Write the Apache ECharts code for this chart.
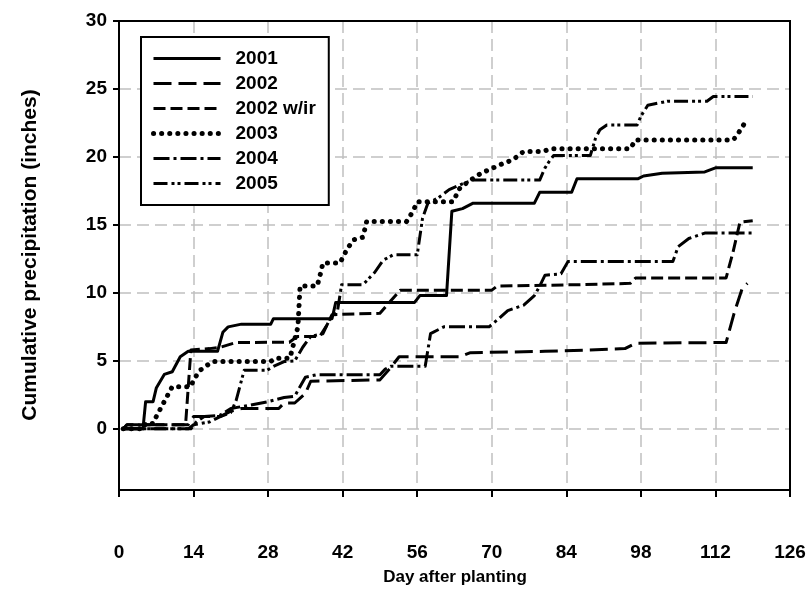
<!DOCTYPE html>
<html>
<head>
<meta charset="utf-8">
<script src="https://cdn.jsdelivr.net/npm/echarts@6/dist/echarts.min.js"></script>
<style>
html,body{margin:0;padding:0;background:#fff;}
#c{width:812px;height:590px;}
</style>
</head>
<body>
<div id="c"></div>
<script>
// Tick labels
const xTicks = [0, 14, 28, 42, 56, 70, 84, 98, 112, 126];
const yTicks = [0, 5, 10, 15, 20, 25, 30];
const seriesNames = ['2001', '2002', '2002 w/ir', '2003', '2004', '2005'];

// [day after planting, cumulative precipitation (inches)]
const d2001 = [[0.8,0],[4.5,0],[5,2],[6.4,2],[7,3],[8.5,4],[10,4.2],[11.5,5.3],[13,5.7],[18.5,5.7],[19.5,7.1],[20.5,7.5],[23,7.7],[28.5,7.7],[29,8.1],[40,8.1],[40.7,9.3],[55.5,9.3],[56.5,9.8],[61.5,9.8],[62.5,16],[64.5,16.2],[66.5,16.6],[78,16.6],[79,17.4],[85,17.4],[86,18.4],[97.5,18.4],[98.5,18.6],[102,18.8],[110,18.9],[112,19.2],[119,19.2]];
const d2002 = [[0.8,0],[1.5,0.3],[13,0.3],[14,0.9],[19,0.9],[21,1.3],[23,1.5],[30,1.5],[31,1.9],[33,1.9],[35,2.6],[36,3.5],[49,3.6],[51,4.5],[52.6,5.3],[64,5.3],[66,5.6],[80,5.7],[88,5.8],[95,5.9],[97,6.3],[114,6.35],[115.5,8.5],[117,10.3],[118,10.7]];
const d2002ir = [[0.8,0],[1.5,0.3],[12.5,0.3],[13.5,5.8],[17,5.9],[19,6.0],[22,6.35],[32,6.37],[33.5,6.8],[37.7,6.8],[39,7.6],[40,8.4],[49,8.5],[51,9.4],[52.8,10.2],[70,10.2],[71,10.5],[86,10.6],[96,10.7],[97,11.1],[114,11.1],[115.3,13.0],[116.6,15.2],[119,15.3]];
const d2003 = [[0.8,0],[4.5,0],[5,0.4],[6.4,0.4],[7,0.9],[8.5,2.0],[10,3.1],[13.5,3.1],[14,3.6],[15.2,4.3],[17,4.8],[17.7,4.95],[28.4,4.95],[29.6,5.2],[32.1,5.2],[33.6,7.5],[34,10.5],[37.2,10.5],[37.7,11.2],[38.3,12.2],[41.5,12.2],[42.8,13.2],[44,13.9],[45.8,14.1],[46.5,15.25],[54,15.25],[55.2,16.0],[56,16.7],[62.7,16.7],[64,17.7],[66,18.3],[68,18.8],[72,19.5],[74,19.8],[76,20.4],[79.6,20.4],[81,20.6],[96,20.6],[97,21.25],[115.3,21.25],[116,21.55],[117,22.2],[117.9,22.7]];
const d2004 = [[0.8,0],[13.5,0],[14.5,0.5],[16,0.9],[19,1.0],[21,1.5],[24,1.7],[28,2.0],[31,2.3],[33,2.4],[35,3.8],[37,3.97],[49,3.97],[50,4.4],[51,4.6],[57.5,4.6],[58.5,7.0],[61,7.5],[69.5,7.5],[71,8.0],[73,8.7],[76,9.1],[78,9.8],[79,10.5],[80,11.3],[83,11.4],[84.3,12.3],[104,12.3],[105,13.4],[107,14.0],[110,14.4],[119,14.4]];
const d2005 = [[0.8,0],[13,0],[14,0.3],[17,0.5],[19,0.9],[21,1.2],[22,2.1],[23.5,4.3],[27.8,4.3],[29,4.6],[31,4.95],[33,5.0],[34.5,6.0],[36,6.8],[38.3,7.0],[39.5,8.0],[41,8.6],[41.8,10.6],[45.8,10.6],[48,11.5],[49.6,12.4],[51.5,12.8],[56,12.8],[57,15.5],[58,16.6],[60,17.0],[62,17.6],[65,18.1],[66.5,18.3],[79,18.3],[80,19.2],[81,19.8],[81.6,20.1],[88.5,20.1],[89.5,21.4],[90.3,22.0],[91.6,22.35],[97.3,22.35],[98,23.0],[99.3,23.8],[103,24.1],[110.4,24.1],[111.6,24.45],[119,24.45]];

const seriesData = [d2001, d2002, d2002ir, d2003, d2004, d2005];
const dashTypes = ['solid', [18, 7], [12, 5], [0.1, 8], [16, 4, 3, 4], [14, 4, 3, 3, 3, 4]];
const widths = [3, 3, 3, 5, 3, 3];

const FONT = '"Liberation Sans", Arial, sans-serif';
const chart = echarts.init(document.getElementById('c'), null, {renderer: 'canvas'});

const series = seriesNames.map((n, i) => ({
  name: n,
  type: 'line',
  data: seriesData[i],
  symbol: 'none',
  animation: false,
  lineStyle: {color: '#000', width: widths[i], type: dashTypes[i], cap: i === 3 ? 'round' : 'butt', join: 'round'},
  itemStyle: {color: '#000'}
}));

chart.setOption({
  animation: false,
  backgroundColor: '#fff',
  grid: {left: 119, right: 22, top: 21, bottom: 100, show: false},
  xAxis: {
    type: 'value', min: 0, max: 126, interval: 14,
    axisLine: {show: true, onZero: false, lineStyle: {color: '#000', width: 2}},
    axisTick: {show: true, inside: false, length: 7, lineStyle: {color: '#000', width: 2}},
    axisLabel: {color: '#000', fontFamily: FONT, fontWeight: 'bold', fontSize: 19, margin: 53,
      formatter: v => xTicks.indexOf(v) >= 0 ? String(v) : ''},
    splitLine: {show: true, lineStyle: {color: '#c0c0c0', width: 1.5, type: [12, 6]}}
  },
  yAxis: {
    type: 'value', min: -4.5, max: 30,
    axisLine: {show: true, onZero: false, lineStyle: {color: '#000', width: 2}},
    axisTick: {show: true, length: 6, customValues: yTicks, lineStyle: {color: '#000', width: 2}},
    axisLabel: {color: '#000', fontFamily: FONT, fontWeight: 'bold', fontSize: 19, margin: 12, customValues: yTicks},
    splitLine: {show: true, lineStyle: {color: '#c0c0c0', width: 1.5, type: [12, 6]}}
  },
  legend: {
    data: seriesNames,
    orient: 'vertical', left: 141, top: 37,
    backgroundColor: '#fff', borderColor: '#000', borderWidth: 2,
    padding: [12, 13, 12, 10],
    itemWidth: 67, itemHeight: 14, itemGap: 6,
    itemStyle: {color: 'rgba(0,0,0,0)', borderWidth: 0, opacity: 0},
    lineStyle: {width: 'inherit', cap: 'inherit'},
    textStyle: {color: '#000', fontFamily: FONT, fontWeight: 'bold', fontSize: 19, padding: [0, 0, 0, 10]}
  },
  graphic: [
    {type: 'text', x: 30, y: 255, rotation: Math.PI / 2,
      style: {text: 'Cumulative precipitation (inches)', fill: '#000', font: 'bold 21px ' + FONT, textAlign: 'center', textVerticalAlign: 'middle'}},
    {type: 'text', x: 455, y: 577,
      style: {text: 'Day after planting', fill: '#000', font: 'bold 17px ' + FONT, textAlign: 'center', textVerticalAlign: 'middle'}}
  ],
  series: series
});

// plot frame drawn on top of the grid lines, from the axes' own scale
const p0 = chart.convertToPixel({gridIndex: 0}, [0, 30]);
const p1 = chart.convertToPixel({gridIndex: 0}, [126, -4.5]);
chart.setOption({
  graphic: [
    {type: 'text', x: 30, y: 255, rotation: Math.PI / 2,
      style: {text: 'Cumulative precipitation (inches)', fill: '#000', font: 'bold 21px ' + FONT, textAlign: 'center', textVerticalAlign: 'middle'}},
    {type: 'text', x: 455, y: 577,
      style: {text: 'Day after planting', fill: '#000', font: 'bold 17px ' + FONT, textAlign: 'center', textVerticalAlign: 'middle'}},
    {type: 'rect', z: 1, silent: true,
      shape: {x: p0[0], y: p0[1], width: p1[0] - p0[0], height: p1[1] - p0[1]},
      style: {fill: 'none', stroke: '#000', lineWidth: 2}}
  ]
});
</script>
</body>
</html>
